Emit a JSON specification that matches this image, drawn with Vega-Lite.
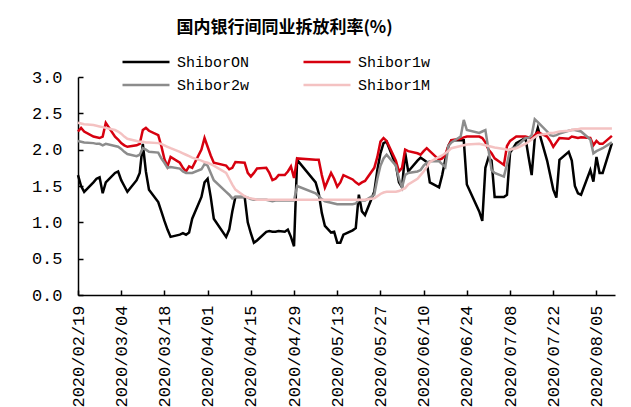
{
"$schema": "https://vega.github.io/schema/vega-lite/v6.json",
"autosize": {"type": "none"},
"width": 537,
"height": 218,
"padding": {"left": 78, "top": 77, "right": 16, "bottom": 112},
"background": "white",
"config": {"view": {"stroke": null}, "font": "Liberation Mono"},
"title": {"text": "国内银行间同业拆放利率(%)", "font": "Noto Sans CJK SC", "fontSize": 17, "fontWeight": "bold", "anchor": "middle", "dx": -62, "offset": 15, "color": "black"},
"data": {"values": [
{"d":"2020/02/19","ShiborON":1.65,"Shibor1w":2.25,"Shibor2w":2.12,"Shibor1M":2.37},
{"d":"2020/02/20","ShiborON":1.50,"Shibor1w":2.30,"Shibor2w":2.11,"Shibor1M":2.36},
{"d":"2020/02/21","ShiborON":1.42,"Shibor1w":2.25,"Shibor2w":2.10,"Shibor1M":2.35},
{"d":"2020/02/24","ShiborON":1.55,"Shibor1w":2.18,"Shibor2w":2.09,"Shibor1M":2.34},
{"d":"2020/02/25","ShiborON":1.60,"Shibor1w":2.17,"Shibor2w":2.08,"Shibor1M":2.33},
{"d":"2020/02/26","ShiborON":1.62,"Shibor1w":2.16,"Shibor2w":2.08,"Shibor1M":2.32},
{"d":"2020/02/27","ShiborON":1.40,"Shibor1w":2.18,"Shibor2w":2.06,"Shibor1M":2.31},
{"d":"2020/02/28","ShiborON":1.55,"Shibor1w":2.37,"Shibor2w":2.08,"Shibor1M":2.30},
{"d":"2020/03/02","ShiborON":1.68,"Shibor1w":2.18,"Shibor2w":2.05,"Shibor1M":2.27},
{"d":"2020/03/03","ShiborON":1.70,"Shibor1w":2.14,"Shibor2w":2.04,"Shibor1M":2.25},
{"d":"2020/03/04","ShiborON":1.58,"Shibor1w":2.09,"Shibor2w":2.01,"Shibor1M":2.22},
{"d":"2020/03/05","ShiborON":1.50,"Shibor1w":2.06,"Shibor2w":1.97,"Shibor1M":2.18},
{"d":"2020/03/06","ShiborON":1.42,"Shibor1w":2.04,"Shibor2w":1.94,"Shibor1M":2.15},
{"d":"2020/03/09","ShiborON":1.58,"Shibor1w":2.06,"Shibor2w":1.91,"Shibor1M":2.12},
{"d":"2020/03/10","ShiborON":1.68,"Shibor1w":2.08,"Shibor2w":1.93,"Shibor1M":2.11},
{"d":"2020/03/11","ShiborON":2.08,"Shibor1w":2.27,"Shibor2w":2.02,"Shibor1M":2.11},
{"d":"2020/03/12","ShiborON":1.70,"Shibor1w":2.30,"Shibor2w":2.00,"Shibor1M":2.10},
{"d":"2020/03/13","ShiborON":1.45,"Shibor1w":2.26,"Shibor2w":1.97,"Shibor1M":2.10},
{"d":"2020/03/16","ShiborON":1.28,"Shibor1w":2.20,"Shibor2w":1.96,"Shibor1M":2.09},
{"d":"2020/03/17","ShiborON":1.15,"Shibor1w":2.05,"Shibor2w":1.88,"Shibor1M":2.08},
{"d":"2020/03/18","ShiborON":1.02,"Shibor1w":1.87,"Shibor2w":1.82,"Shibor1M":2.06},
{"d":"2020/03/19","ShiborON":0.90,"Shibor1w":1.77,"Shibor2w":1.75,"Shibor1M":2.04},
{"d":"2020/03/20","ShiborON":0.80,"Shibor1w":1.90,"Shibor2w":1.76,"Shibor1M":2.02},
{"d":"2020/03/23","ShiborON":0.83,"Shibor1w":1.82,"Shibor2w":1.74,"Shibor1M":1.97},
{"d":"2020/03/24","ShiborON":0.85,"Shibor1w":1.75,"Shibor2w":1.70,"Shibor1M":1.95},
{"d":"2020/03/25","ShiborON":0.83,"Shibor1w":1.70,"Shibor2w":1.68,"Shibor1M":1.93},
{"d":"2020/03/26","ShiborON":0.86,"Shibor1w":1.77,"Shibor2w":1.68,"Shibor1M":1.91},
{"d":"2020/03/27","ShiborON":1.05,"Shibor1w":1.75,"Shibor2w":1.68,"Shibor1M":1.89},
{"d":"2020/03/30","ShiborON":1.35,"Shibor1w":2.00,"Shibor2w":1.73,"Shibor1M":1.85},
{"d":"2020/03/31","ShiborON":1.55,"Shibor1w":2.16,"Shibor2w":1.80,"Shibor1M":1.83},
{"d":"2020/04/01","ShiborON":1.60,"Shibor1w":2.04,"Shibor2w":1.78,"Shibor1M":1.82},
{"d":"2020/04/02","ShiborON":1.35,"Shibor1w":1.92,"Shibor2w":1.68,"Shibor1M":1.80},
{"d":"2020/04/03","ShiborON":1.05,"Shibor1w":1.82,"Shibor2w":1.58,"Shibor1M":1.78},
{"d":"2020/04/07","ShiborON":0.80,"Shibor1w":1.78,"Shibor2w":1.42,"Shibor1M":1.68},
{"d":"2020/04/08","ShiborON":0.90,"Shibor1w":1.73,"Shibor2w":1.38,"Shibor1M":1.60},
{"d":"2020/04/09","ShiborON":1.15,"Shibor1w":1.75,"Shibor2w":1.33,"Shibor1M":1.52},
{"d":"2020/04/10","ShiborON":1.35,"Shibor1w":1.83,"Shibor2w":1.35,"Shibor1M":1.45},
{"d":"2020/04/13","ShiborON":1.35,"Shibor1w":1.82,"Shibor2w":1.35,"Shibor1M":1.36},
{"d":"2020/04/14","ShiborON":1.00,"Shibor1w":1.68,"Shibor2w":1.34,"Shibor1M":1.34},
{"d":"2020/04/15","ShiborON":0.85,"Shibor1w":1.63,"Shibor2w":1.32,"Shibor1M":1.33},
{"d":"2020/04/16","ShiborON":0.72,"Shibor1w":1.68,"Shibor2w":1.31,"Shibor1M":1.32},
{"d":"2020/04/17","ShiborON":0.75,"Shibor1w":1.74,"Shibor2w":1.31,"Shibor1M":1.31},
{"d":"2020/04/20","ShiborON":0.87,"Shibor1w":1.75,"Shibor2w":1.31,"Shibor1M":1.31},
{"d":"2020/04/21","ShiborON":0.88,"Shibor1w":1.68,"Shibor2w":1.30,"Shibor1M":1.31},
{"d":"2020/04/22","ShiborON":0.87,"Shibor1w":1.58,"Shibor2w":1.29,"Shibor1M":1.31},
{"d":"2020/04/23","ShiborON":0.87,"Shibor1w":1.60,"Shibor2w":1.30,"Shibor1M":1.31},
{"d":"2020/04/24","ShiborON":0.88,"Shibor1w":1.65,"Shibor2w":1.30,"Shibor1M":1.31},
{"d":"2020/04/26","ShiborON":0.87,"Shibor1w":1.65,"Shibor2w":1.30,"Shibor1M":1.31},
{"d":"2020/04/27","ShiborON":0.90,"Shibor1w":1.70,"Shibor2w":1.30,"Shibor1M":1.31},
{"d":"2020/04/28","ShiborON":0.80,"Shibor1w":1.77,"Shibor2w":1.30,"Shibor1M":1.31},
{"d":"2020/04/29","ShiborON":0.67,"Shibor1w":1.61,"Shibor2w":1.30,"Shibor1M":1.31},
{"d":"2020/04/30","ShiborON":1.86,"Shibor1w":1.88,"Shibor2w":1.50,"Shibor1M":1.31},
{"d":"2020/05/06","ShiborON":1.55,"Shibor1w":1.86,"Shibor2w":1.40,"Shibor1M":1.31},
{"d":"2020/05/07","ShiborON":1.40,"Shibor1w":1.86,"Shibor2w":1.36,"Shibor1M":1.31},
{"d":"2020/05/08","ShiborON":1.13,"Shibor1w":1.65,"Shibor2w":1.32,"Shibor1M":1.31},
{"d":"2020/05/09","ShiborON":0.95,"Shibor1w":1.48,"Shibor2w":1.29,"Shibor1M":1.31},
{"d":"2020/05/11","ShiborON":0.86,"Shibor1w":1.68,"Shibor2w":1.27,"Shibor1M":1.31},
{"d":"2020/05/12","ShiborON":0.87,"Shibor1w":1.60,"Shibor2w":1.26,"Shibor1M":1.31},
{"d":"2020/05/13","ShiborON":0.72,"Shibor1w":1.49,"Shibor2w":1.25,"Shibor1M":1.31},
{"d":"2020/05/14","ShiborON":0.72,"Shibor1w":1.55,"Shibor2w":1.25,"Shibor1M":1.31},
{"d":"2020/05/15","ShiborON":0.83,"Shibor1w":1.65,"Shibor2w":1.25,"Shibor1M":1.31},
{"d":"2020/05/18","ShiborON":0.89,"Shibor1w":1.59,"Shibor2w":1.25,"Shibor1M":1.31},
{"d":"2020/05/19","ShiborON":0.92,"Shibor1w":1.55,"Shibor2w":1.26,"Shibor1M":1.31},
{"d":"2020/05/20","ShiborON":1.38,"Shibor1w":1.52,"Shibor2w":1.31,"Shibor1M":1.31},
{"d":"2020/05/21","ShiborON":1.15,"Shibor1w":1.55,"Shibor2w":1.30,"Shibor1M":1.31},
{"d":"2020/05/22","ShiborON":1.10,"Shibor1w":1.57,"Shibor2w":1.30,"Shibor1M":1.31},
{"d":"2020/05/25","ShiborON":1.42,"Shibor1w":1.75,"Shibor2w":1.38,"Shibor1M":1.33},
{"d":"2020/05/26","ShiborON":1.72,"Shibor1w":1.90,"Shibor2w":1.60,"Shibor1M":1.36},
{"d":"2020/05/27","ShiborON":1.95,"Shibor1w":2.11,"Shibor2w":1.78,"Shibor1M":1.39},
{"d":"2020/05/28","ShiborON":2.09,"Shibor1w":2.16,"Shibor2w":1.88,"Shibor1M":1.41},
{"d":"2020/05/29","ShiborON":2.11,"Shibor1w":2.12,"Shibor2w":1.93,"Shibor1M":1.42},
{"d":"2020/06/01","ShiborON":1.79,"Shibor1w":1.85,"Shibor2w":1.78,"Shibor1M":1.42},
{"d":"2020/06/02","ShiborON":1.55,"Shibor1w":1.70,"Shibor2w":1.60,"Shibor1M":1.43},
{"d":"2020/06/03","ShiborON":1.48,"Shibor1w":1.75,"Shibor2w":1.48,"Shibor1M":1.45},
{"d":"2020/06/04","ShiborON":1.96,"Shibor1w":2.00,"Shibor2w":1.65,"Shibor1M":1.47},
{"d":"2020/06/05","ShiborON":1.70,"Shibor1w":1.98,"Shibor2w":1.68,"Shibor1M":1.52},
{"d":"2020/06/08","ShiborON":1.85,"Shibor1w":1.95,"Shibor2w":1.70,"Shibor1M":1.60},
{"d":"2020/06/09","ShiborON":1.89,"Shibor1w":1.93,"Shibor2w":1.72,"Shibor1M":1.65},
{"d":"2020/06/10","ShiborON":1.86,"Shibor1w":1.98,"Shibor2w":1.78,"Shibor1M":1.70},
{"d":"2020/06/11","ShiborON":1.83,"Shibor1w":2.02,"Shibor2w":1.82,"Shibor1M":1.76},
{"d":"2020/06/12","ShiborON":1.55,"Shibor1w":1.98,"Shibor2w":1.84,"Shibor1M":1.83},
{"d":"2020/06/15","ShiborON":1.48,"Shibor1w":1.86,"Shibor2w":1.84,"Shibor1M":1.90},
{"d":"2020/06/16","ShiborON":1.65,"Shibor1w":1.88,"Shibor2w":1.80,"Shibor1M":1.92},
{"d":"2020/06/17","ShiborON":1.86,"Shibor1w":1.93,"Shibor2w":1.76,"Shibor1M":1.95},
{"d":"2020/06/18","ShiborON":2.05,"Shibor1w":2.05,"Shibor2w":2.05,"Shibor1M":1.98},
{"d":"2020/06/19","ShiborON":2.13,"Shibor1w":2.13,"Shibor2w":2.10,"Shibor1M":2.02},
{"d":"2020/06/22","ShiborON":2.13,"Shibor1w":2.15,"Shibor2w":2.18,"Shibor1M":2.05},
{"d":"2020/06/23","ShiborON":2.13,"Shibor1w":2.17,"Shibor2w":2.41,"Shibor1M":2.06},
{"d":"2020/06/24","ShiborON":1.52,"Shibor1w":2.18,"Shibor2w":2.27,"Shibor1M":2.07},
{"d":"2020/06/28","ShiborON":1.15,"Shibor1w":2.18,"Shibor2w":2.23,"Shibor1M":2.08},
{"d":"2020/06/29","ShiborON":1.02,"Shibor1w":2.16,"Shibor2w":2.25,"Shibor1M":2.07},
{"d":"2020/06/30","ShiborON":1.75,"Shibor1w":2.10,"Shibor2w":2.27,"Shibor1M":2.06},
{"d":"2020/07/01","ShiborON":1.89,"Shibor1w":2.00,"Shibor2w":2.00,"Shibor1M":2.05},
{"d":"2020/07/02","ShiborON":1.85,"Shibor1w":1.95,"Shibor2w":1.72,"Shibor1M":2.04},
{"d":"2020/07/03","ShiborON":1.35,"Shibor1w":1.88,"Shibor2w":1.68,"Shibor1M":2.03},
{"d":"2020/07/06","ShiborON":1.35,"Shibor1w":1.79,"Shibor2w":1.63,"Shibor1M":2.01},
{"d":"2020/07/07","ShiborON":1.38,"Shibor1w":2.05,"Shibor2w":1.80,"Shibor1M":2.00},
{"d":"2020/07/08","ShiborON":1.96,"Shibor1w":2.12,"Shibor2w":2.00,"Shibor1M":2.00},
{"d":"2020/07/09","ShiborON":2.02,"Shibor1w":2.15,"Shibor2w":2.02,"Shibor1M":2.01},
{"d":"2020/07/10","ShiborON":2.09,"Shibor1w":2.18,"Shibor2w":2.04,"Shibor1M":2.02},
{"d":"2020/07/13","ShiborON":2.16,"Shibor1w":2.18,"Shibor2w":2.16,"Shibor1M":2.08},
{"d":"2020/07/14","ShiborON":1.90,"Shibor1w":2.17,"Shibor2w":2.16,"Shibor1M":2.11},
{"d":"2020/07/15","ShiborON":1.65,"Shibor1w":2.15,"Shibor2w":2.20,"Shibor1M":2.14},
{"d":"2020/07/16","ShiborON":2.15,"Shibor1w":2.20,"Shibor2w":2.42,"Shibor1M":2.17},
{"d":"2020/07/17","ShiborON":2.30,"Shibor1w":2.24,"Shibor2w":2.38,"Shibor1M":2.20},
{"d":"2020/07/20","ShiborON":1.85,"Shibor1w":2.18,"Shibor2w":2.25,"Shibor1M":2.22},
{"d":"2020/07/21","ShiborON":1.65,"Shibor1w":2.12,"Shibor2w":2.20,"Shibor1M":2.23},
{"d":"2020/07/22","ShiborON":1.45,"Shibor1w":2.04,"Shibor2w":2.19,"Shibor1M":2.23},
{"d":"2020/07/23","ShiborON":1.34,"Shibor1w":2.10,"Shibor2w":2.20,"Shibor1M":2.24},
{"d":"2020/07/24","ShiborON":1.86,"Shibor1w":2.16,"Shibor2w":2.22,"Shibor1M":2.25},
{"d":"2020/07/27","ShiborON":1.97,"Shibor1w":2.15,"Shibor2w":2.26,"Shibor1M":2.26},
{"d":"2020/07/28","ShiborON":1.85,"Shibor1w":2.18,"Shibor2w":2.27,"Shibor1M":2.27},
{"d":"2020/07/29","ShiborON":1.50,"Shibor1w":2.17,"Shibor2w":2.27,"Shibor1M":2.28},
{"d":"2020/07/30","ShiborON":1.40,"Shibor1w":2.16,"Shibor2w":2.26,"Shibor1M":2.28},
{"d":"2020/07/31","ShiborON":1.38,"Shibor1w":2.17,"Shibor2w":2.25,"Shibor1M":2.29},
{"d":"2020/08/03","ShiborON":1.72,"Shibor1w":2.16,"Shibor2w":2.14,"Shibor1M":2.29},
{"d":"2020/08/04","ShiborON":1.56,"Shibor1w":2.06,"Shibor2w":1.95,"Shibor1M":2.29},
{"d":"2020/08/05","ShiborON":1.90,"Shibor1w":2.12,"Shibor2w":1.98,"Shibor1M":2.29},
{"d":"2020/08/06","ShiborON":1.68,"Shibor1w":2.08,"Shibor2w":2.00,"Shibor1M":2.29},
{"d":"2020/08/07","ShiborON":1.68,"Shibor1w":2.08,"Shibor2w":2.02,"Shibor1M":2.29},
{"d":"2020/08/10","ShiborON":2.09,"Shibor1w":2.19,"Shibor2w":2.10,"Shibor1M":2.29}
]},
"transform": [{"fold": ["ShiborON", "Shibor1w", "Shibor2w", "Shibor1M"], "as": ["series", "rate"]}],
"mark": {"type": "line", "strokeWidth": 2.5},
"encoding": {
  "x": {"field": "d", "type": "temporal",
    "scale": {"domain": [{"year": 2020, "month": 2, "date": 19}, {"year": 2020, "month": 8, "date": 11}], "nice": false},
    "axis": {"title": null, "grid": false, "format": "%Y/%m/%d", "labelAngle": -90, "labelFont": "Liberation Mono", "labelFontSize": 17, "labelColor": "black",
      "domainColor": "black", "domainWidth": 1.5, "tickColor": "black", "tickWidth": 1.5, "tickSize": -5, "labelPadding": 15, "labelOverlap": false, "labelFlush": false,
      "values": [
        {"year": 2020, "month": 2, "date": 19}, {"year": 2020, "month": 3, "date": 4}, {"year": 2020, "month": 3, "date": 18},
        {"year": 2020, "month": 4, "date": 1}, {"year": 2020, "month": 4, "date": 15}, {"year": 2020, "month": 4, "date": 29},
        {"year": 2020, "month": 5, "date": 13}, {"year": 2020, "month": 5, "date": 27}, {"year": 2020, "month": 6, "date": 10},
        {"year": 2020, "month": 6, "date": 24}, {"year": 2020, "month": 7, "date": 8}, {"year": 2020, "month": 7, "date": 22},
        {"year": 2020, "month": 8, "date": 5}]}},
  "y": {"field": "rate", "type": "quantitative",
    "scale": {"domain": [0, 3], "nice": false},
    "axis": {"title": null, "grid": false, "values": [0, 0.5, 1, 1.5, 2, 2.5, 3], "format": ".1f", "labelFont": "Liberation Mono", "labelFontSize": 17, "labelColor": "black",
      "domainColor": "black", "domainWidth": 1.5, "tickColor": "black", "tickWidth": 1.5, "tickSize": -5, "labelPadding": 21}},
  "color": {"field": "series", "type": "nominal",
    "scale": {"domain": ["ShiborON", "Shibor1w", "Shibor2w", "Shibor1M"], "range": ["#000000", "#d7000f", "#8c8c8c", "#f4c2c2"]},
    "legend": {"title": null, "orient": "none", "legendX": 43, "legendY": -25, "direction": "horizontal", "columns": 2, "symbolType": "stroke", "symbolSize": 2209, "symbolStrokeWidth": 2.5, "clipHeight": 20,
      "labelFont": "Liberation Mono", "labelFontSize": 15, "labelColor": "black", "labelOffset": 6, "columnPadding": 52, "rowPadding": 3}}
}
}
